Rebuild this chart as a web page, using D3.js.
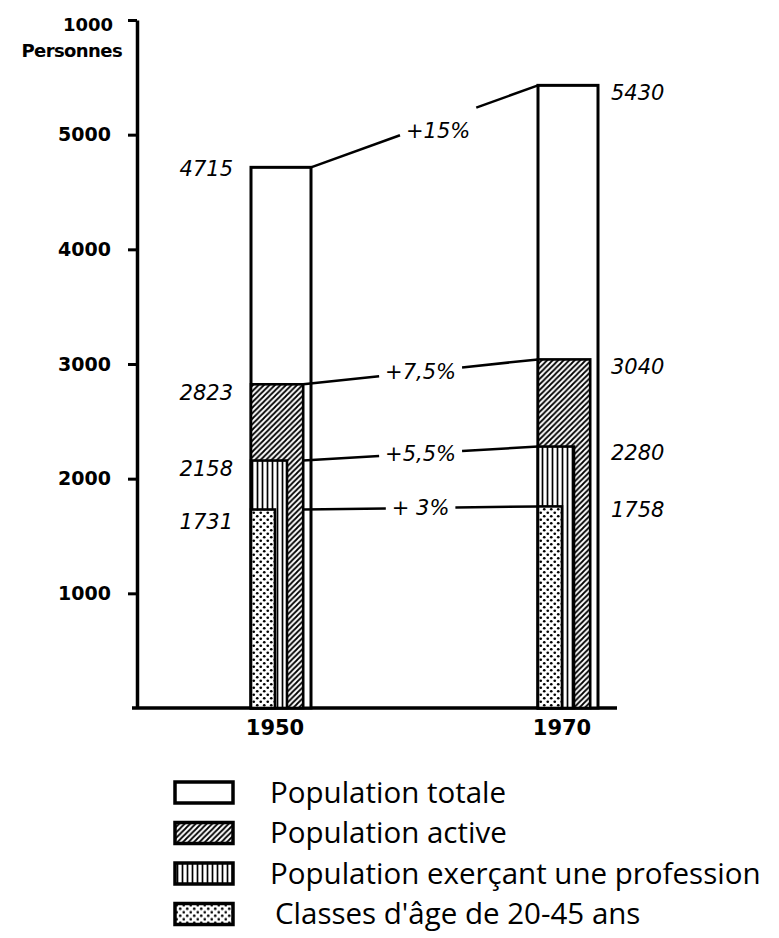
<!DOCTYPE html>
<html>
<head>
<meta charset="utf-8">
<script src="https://cdn.jsdelivr.net/npm/d3@7"></script>
<style>
  html, body { margin: 0; padding: 0; background: #fff; }
  svg { display: block; }
</style>
</head>
<body>
<div id="chart"></div>
<script>
// ---- data ----
const years = ["1950", "1970"];
const popTotale = [4715, 5430];
const popActive = [2823, 3040];
const popProfession = [2158, 2280];
const popClasses = [1731, 1758];
const growthLabels = ["+15%", "+7,5%", "+5,5%", "+ 3%"];
const yTickValues = [1000, 2000, 3000, 4000, 5000, 6000];
const yTickLabels = ["1000", "2000", "3000", "4000", "5000", "1000"];
const unitLabel = "Personnes";
const legendLabels = [
  "Population totale",
  "Population active",
  "Population exerçant une profession",
  "Classes d'âge de 20-45 ans"
];

// ---- layout ----
const W = 779, H = 938;
const svg = d3.select("#chart").append("svg").attr("width", W).attr("height", H);

const defs = svg.append("defs");
// diagonal hatch
const ph = defs.append("pattern").attr("id", "hatch").attr("patternUnits", "userSpaceOnUse")
  .attr("width", 5.5).attr("height", 5.5);
ph.append("rect").attr("width", 5.5).attr("height", 5.5).attr("fill", "#fff");
ph.append("path").attr("d", "M-1,1 l2,-2 M0,5.5 l5.5,-5.5 M4.5,6.5 l2,-2")
  .attr("stroke", "#000").attr("stroke-width", 1.8);
// vertical lines
const pv = defs.append("pattern").attr("id", "vlines").attr("patternUnits", "userSpaceOnUse")
  .attr("width", 5).attr("height", 5);
pv.append("rect").attr("width", 5).attr("height", 5).attr("fill", "#fff");
pv.append("line").attr("x1", 2.5).attr("x2", 2.5).attr("y1", 0).attr("y2", 5)
  .attr("stroke", "#000").attr("stroke-width", 1.7);
// dots
const pd = defs.append("pattern").attr("id", "dots").attr("patternUnits", "userSpaceOnUse")
  .attr("width", 7).attr("height", 7);
pd.append("rect").attr("width", 7).attr("height", 7).attr("fill", "#fff");
pd.append("circle").attr("cx", 1.75).attr("cy", 1.75).attr("r", 1.35).attr("fill", "#000");
pd.append("circle").attr("cx", 5.25).attr("cy", 5.25).attr("r", 1.35).attr("fill", "#000");

const y = d3.scaleLinear().domain([0, 6000]).range([708, 20]);
const x = d3.scalePoint().domain(years).range([251, 538]); // left edge of each bar group
const barW = 60;

const series = [
  { values: popTotale, frac: 1.0, fill: "#fff", sw: 3 },
  { values: popActive, frac: 0.87, fill: "url(#hatch)", sw: 2.6 },
  { values: popProfession, frac: 0.6, fill: "url(#vlines)", sw: 2.6 },
  { values: popClasses, frac: 0.4, fill: "url(#dots)", sw: 2.6 }
];

// ---- axes ----
const yAxis = d3.axisLeft(y).tickValues(yTickValues).tickSize(9).tickSizeOuter(0)
  .tickPadding(17).tickFormat((d, i) => yTickLabels[i]);
const gy = svg.append("g").attr("transform", "translate(137,0)").call(yAxis);
gy.select(".domain").attr("stroke", "#000").attr("stroke-width", 3.5);
gy.selectAll(".tick line").attr("stroke", "#000").attr("stroke-width", 3);
gy.selectAll(".tick text").attr("fill", "#000")
  .style("font-family", "'DejaVu Sans', sans-serif").style("font-weight", "bold").style("font-size", "19px");
gy.selectAll(".tick").filter(d => d === 6000).select("text").attr("dy", "0.6em")
  .style("font-size", "18px").attr("x", -24);
svg.append("text").attr("x", 122).attr("y", y(6000) + 37)
  .attr("text-anchor", "end")
  .style("font-family", "'DejaVu Sans', sans-serif").style("font-weight", "bold")
  .style("font-size", "18px").style("letter-spacing", "-0.6px").text(unitLabel);

// x axis line
svg.append("line").attr("x1", 132).attr("x2", 617).attr("y1", y(0)).attr("y2", y(0))
  .attr("stroke", "#000").attr("stroke-width", 3.5);

// ---- bars ----
series.forEach(s => {
  svg.append("g").selectAll("rect").data(years).join("rect")
    .attr("x", d => x(d))
    .attr("y", (d, i) => y(s.values[i]))
    .attr("width", barW * s.frac)
    .attr("height", (d, i) => y(0) - y(s.values[i]))
    .attr("fill", s.fill)
    .attr("stroke", "#000").attr("stroke-width", s.sw);
});

// x labels
svg.append("g").selectAll("text").data(years).join("text")
  .attr("x", d => x(d) + barW / 2 - 6).attr("y", y(0) + 27)
  .attr("text-anchor", "middle")
  .style("font-family", "'DejaVu Sans', sans-serif").style("font-weight", "bold").style("font-size", "21px")
  .text(d => d);

// value labels
const valFont = "'DejaVu Sans', sans-serif";
const leftDy = [1, 8, 8, 12];
const rightDy = [7, 7, 6, 3];
series.forEach((s, i) => {
  // 1950 : left of bar
  svg.append("text").attr("x", x(years[0]) - 18).attr("y", y(s.values[0]) + leftDy[i])
    .attr("dy", "0.35em").attr("text-anchor", "end")
    .style("font-family", valFont).style("font-style", "italic").style("font-size", "21px")
    .text(s.values[0]);
  // 1970 : right of bar
  svg.append("text").attr("x", x(years[1]) + barW + 13).attr("y", y(s.values[1]) + rightDy[i])
    .attr("dy", "0.35em").attr("text-anchor", "start")
    .style("font-family", valFont).style("font-style", "italic").style("font-size", "21px")
    .text(s.values[1]);
});

// growth connectors
series.forEach((s, i) => {
  const x1 = x(years[0]) + barW * (i === 0 ? 1 : series[1].frac);
  const y1 = y(s.values[0]);
  const x2 = x(years[1]);
  const y2 = y(s.values[1]);
  const t = i === 0 ? 0.56 : 0.5;
  const cx = x1 + (x2 - x1) * t;
  const cy = y1 + (y2 - y1) * t + (i === 0 ? 9 : 0);
  const txt = svg.append("text").attr("x", cx).attr("y", cy).attr("dy", "0.35em")
    .attr("text-anchor", "middle")
    .style("font-family", valFont).style("font-style", "italic").style("font-size", "21px")
    .text(growthLabels[i]);
  const bb = txt.node().getBBox();
  const gapL = bb.x - 6, gapR = bb.x + bb.width + 6;
  const yAt = xx => y1 + (y2 - y1) * (xx - x1) / (x2 - x1);
  svg.append("line").attr("x1", x1).attr("y1", y1).attr("x2", gapL).attr("y2", yAt(gapL))
    .attr("stroke", "#000").attr("stroke-width", 2.5);
  svg.append("line").attr("x1", gapR).attr("y1", yAt(gapR)).attr("x2", x2).attr("y2", y2)
    .attr("stroke", "#000").attr("stroke-width", 2.5);
});

// ---- legend ----
const legendFills = series.map(s => s.fill);
const lg = svg.append("g").attr("transform", "translate(175,782)");
legendLabels.forEach((lab, i) => {
  const row = lg.append("g").attr("transform", `translate(0,${i * 40.5})`);
  row.append("rect").attr("width", 58).attr("height", 21)
    .attr("fill", legendFills[i]).attr("stroke", "#000").attr("stroke-width", 3.5);
  row.append("text").attr("x", i === 3 ? 100 : 95).attr("y", 10.5).attr("dy", "0.35em")
    .style("font-family", "'Open Sans', sans-serif").style("font-size", "29.5px")
    .text(lab);
});
</script>
</body>
</html>
